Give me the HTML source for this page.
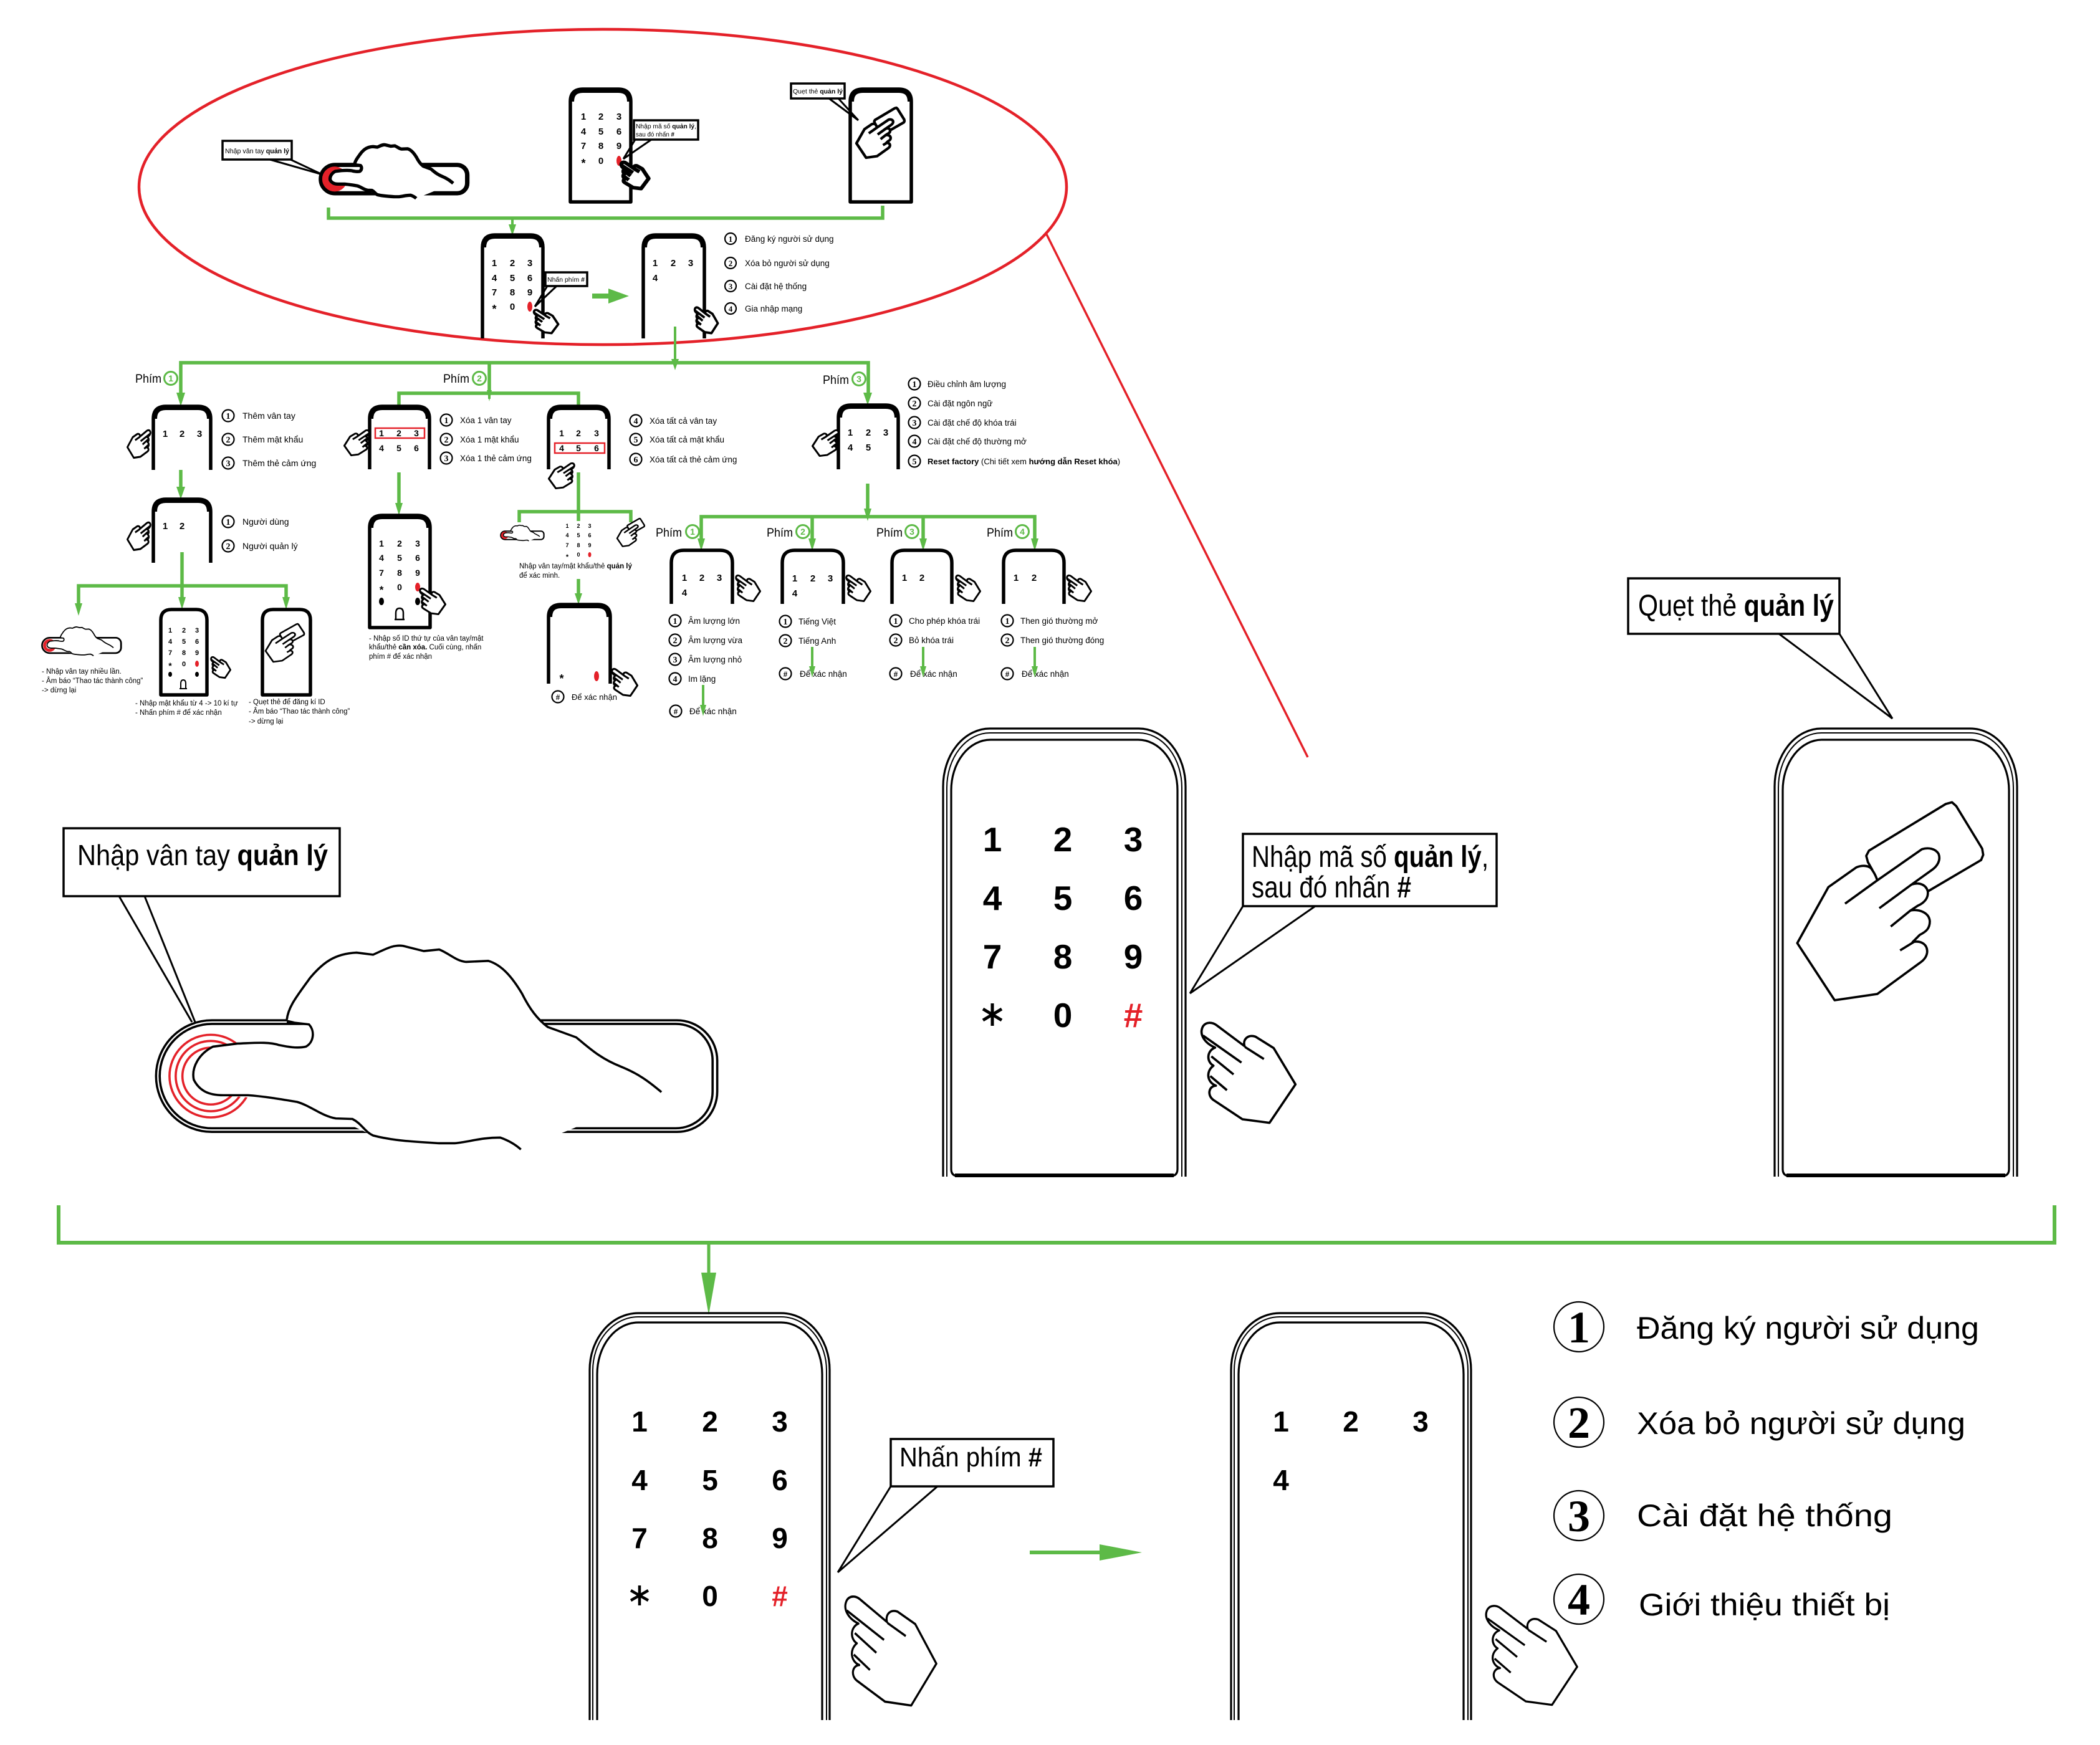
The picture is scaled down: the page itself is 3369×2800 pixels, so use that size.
<!DOCTYPE html>
<html><head><meta charset="utf-8">
<style>
html,body{margin:0;padding:0;background:#fff;}
svg{display:block;}
text{font-family:"Liberation Sans",sans-serif;}
.b{font-weight:bold;}
.g{stroke:#5dba47;fill:none;stroke-width:5.5;}
.g4{stroke:#5dba47;fill:none;stroke-width:4;}
.ga{fill:#5dba47;stroke:none;}
.d{fill:none;stroke:#000;stroke-width:5.5;stroke-linejoin:round;}
.dt{fill:none;stroke:#000;stroke-width:8;}
.bx{fill:#fff;stroke:#000;stroke-width:3.5;}
.ln{stroke:#000;stroke-width:3;fill:none;}
.cn circle{fill:#fff;stroke:#000;stroke-width:2.2;}
.cn text{font-family:"Liberation Serif",serif;font-weight:bold;text-anchor:middle;}
.gc circle{fill:#fff;stroke:#5dba47;stroke-width:3;}
.gc text{fill:#5dba47;font-weight:bold;text-anchor:middle;}
.k text{font-weight:bold;text-anchor:middle;}
.rt{fill:#e42129;}
.o1{fill:none;stroke:#000;stroke-width:3.2;}
.o2{fill:none;stroke:#000;stroke-width:2;}
</style></head><body>
<svg width="3369" height="2800" viewBox="0 0 3369 2800" xmlns="http://www.w3.org/2000/svg">
<defs>
<g id="hp">
<path fill="#fff" d="M350 236 C340 205 365 178 402 190 L490 245 L595 420 L470 605 L340 588 L200 495 C168 472 178 428 212 426 C172 412 160 360 200 330 C165 310 168 258 208 243 C160 222 128 180 150 140 C165 118 195 120 215 135 Z"/>
<path fill="none" d="M150 185 L335 315 M190 285 L297 372 M185 380 L265 448 M352 240 L443 298"/>
</g>
<g id="ch">
<path fill="#fff" d="M480 460 L460 405 L440 370 L432 340 L445 315 L815 90 L845 82 L865 100 L990 305 L995 335 L985 360 L730 510 Z"/>
<path fill="#fff" d="M250 490 L385 395 C410 385 440 385 455 400 C470 420 480 440 485 458 L700 308 C730 298 765 305 780 330 C792 360 775 390 745 410 L650 478 C690 465 720 480 728 510 C732 540 715 565 680 580 L645 603 C690 595 735 615 738 655 C738 690 720 705 690 720 L655 755 C700 745 728 770 725 805 C722 830 705 845 690 855 L485 1005 L280 1035 L100 760 Z"/>
<path fill="none" d="M330 570 L485 458 M495 592 L650 478 M550 680 L645 603 M595 795 L665 752"/>
</g>
<g id="fp">
<path fill="none" stroke="#000" d="M410 467 H1310 A78 78 0 0 1 1388 545 V605 A78 78 0 0 1 1310 683 H410 A108 108 0 0 1 410 467 Z"/>
<path fill="none" stroke="#000" d="M410 474 H1308 A71 71 0 0 1 1379 545 V605 A71 71 0 0 1 1308 676 H410 A101 101 0 0 1 410 474 Z"/>
<circle cx="408" cy="575" r="80" fill="none" stroke="#e42129"/>
<circle cx="408" cy="575" r="68" fill="none" stroke="#e42129"/>
<circle cx="408" cy="575" r="55" fill="none" stroke="#e42129"/>
<path fill="#fff" stroke="none" d="M555 466 L600 385 L690 336 L780 323 L902 354 L945 352 L1010 415 L1050 470 L1060 480 L1200 556 L1280 606 L1100 680 L1008 717 L968 694 L850 705 L722 690 L650 657 L575 625 L432 612 L375 582 L412 518 L460 512 L540 515 L592 518 L607 495 L598 475 Z"/>
<path fill="none" stroke="#000" stroke-linejoin="round" d="M555 466 C558 440 575 420 600 385 C625 355 648 338 690 336 L722 340 C745 330 760 320 780 323 L820 333 L850 330 C870 338 882 352 902 354 L945 352 C972 360 992 385 1010 415 C1025 445 1040 465 1060 480 L1115 500 C1140 520 1160 540 1200 556 C1235 570 1255 585 1280 606"/>
<path fill="none" stroke="#000" stroke-linejoin="round" d="M555 470 L598 475 C610 488 607 510 592 518 C575 522 555 518 540 515 C520 508 490 511 460 512 L412 518 C385 532 370 558 375 582 C385 602 402 612 432 612 L480 612 C510 614 545 620 575 625 C602 633 622 652 650 657 L682 658 C700 667 706 683 722 690 C760 700 800 702 850 705 L880 705 C910 702 930 694 968 694 C985 700 998 708 1008 717"/>
</g>
</defs>
<rect width="3369" height="2800" fill="#fff"/>

<!-- ===== Ellipse ===== -->
<ellipse cx="967" cy="300" rx="744" ry="253" fill="none" stroke="#e42129" stroke-width="4.5"/>
<line x1="1679" y1="376" x2="2098" y2="1215" stroke="#e42129" stroke-width="3.5"/>

<!-- small fingerprint in ellipse -->
<use href="#fp" transform="translate(448 162) scale(0.218)" stroke-width="24"/>
<rect class="bx" x="357" y="226" width="111" height="30" stroke-width="3"/>
<text x="361" y="246" font-size="11" textLength="103" lengthAdjust="spacingAndGlyphs">Nhập vân tay <tspan class="b">quản lý</tspan></text>
<path class="ln" d="M433 256 L517 280 M466 256 L517 280"/>

<!-- E1 keypad -->
<path class="d" d="M915 324 V163 Q915 143 935 143 H992 Q1012 143 1012 163 V324 Z"/>
<path class="dt" d="M917 163 Q917 145 935 145 H992 Q1010 145 1010 163"/>
<g class="k" font-size="15">
<text x="936" y="192">1</text><text x="964" y="192">2</text><text x="993" y="192">3</text>
<text x="936" y="216">4</text><text x="964" y="216">5</text><text x="993" y="216">6</text>
<text x="936" y="239">7</text><text x="964" y="239">8</text><text x="993" y="239">9</text>
<text x="936" y="268" font-size="18">*</text><text x="964" y="263">0</text>
</g>
<ellipse cx="993" cy="258" rx="4" ry="8" fill="#e42129"/>
<use href="#hp" transform="translate(983 249.5) scale(0.0968 0.0878)" stroke="#000" stroke-width="65" stroke-linejoin="round"/>
<rect class="bx" x="1017" y="193" width="103" height="31" stroke-width="3"/>
<text x="1020" y="206" font-size="10" textLength="97" lengthAdjust="spacingAndGlyphs">Nhập mã số <tspan class="b">quản lý</tspan>,</text>
<text x="1020" y="219" font-size="10" textLength="62" lengthAdjust="spacingAndGlyphs">sau đó nhấn <tspan class="b">#</tspan></text>
<path class="ln" d="M1019 224 L1000 255 M1045 224 L1000 255"/>

<!-- E2 card -->
<path class="d" d="M1364 324 V163 Q1364 143 1384 143 H1442 Q1462 143 1462 163 V324 Z"/>
<path class="dt" d="M1366 163 Q1366 145 1384 145 H1442 Q1460 145 1460 163"/>
<use href="#ch" transform="translate(1365.4 166.1) scale(0.086 0.084)" stroke="#000" stroke-width="50" stroke-linejoin="round"/>
<rect class="bx" x="1269" y="134" width="86" height="24" stroke-width="3"/>
<text x="1272" y="150" font-size="10" textLength="80" lengthAdjust="spacingAndGlyphs">Quẹt thẻ <tspan class="b">quản lý</tspan></text>
<path class="ln" d="M1330 158 L1377 193 M1345 158 L1377 193"/>

<!-- ellipse bracket -->
<path class="g" d="M527 333 V350 H1416 V330"/>
<path class="g4" d="M822 350 V362"/>
<polygon class="ga" points="816,360 828,360 822,378"/>

<!-- E3 device -->
<path class="d" d="M774 543 V397 Q774 377 794 377 H851 Q871 377 871 397 V543"/>
<path class="dt" d="M776 397 Q776 379 794 379 H851 Q869 379 869 397"/>
<g class="k" font-size="15">
<text x="793" y="427">1</text><text x="822" y="427">2</text><text x="850" y="427">3</text>
<text x="793" y="451">4</text><text x="822" y="451">5</text><text x="850" y="451">6</text>
<text x="793" y="474">7</text><text x="822" y="474">8</text><text x="850" y="474">9</text>
<text x="793" y="502" font-size="18">*</text><text x="822" y="497">0</text>
</g>
<ellipse cx="850" cy="492" rx="4" ry="8" fill="#e42129"/>
<use href="#hp" transform="translate(844.4 487.7) scale(0.086 0.0776)" stroke="#000" stroke-width="45" stroke-linejoin="round"/>
<rect class="bx" x="875" y="437" width="67" height="22" stroke-width="3"/>
<text x="878" y="452" font-size="10" textLength="60" lengthAdjust="spacingAndGlyphs">Nhấn phím <tspan class="b">#</tspan></text>
<path class="ln" d="M878 459 L858 492 M893 459 L858 492"/>
<path d="M950 475 H980" stroke="#5dba47" stroke-width="8"/>
<polygon class="ga" points="976,463 1009,475 976,487"/>

<!-- E4 device -->
<path class="d" d="M1032 543 V397 Q1032 377 1052 377 H1110 Q1130 377 1130 397 V543"/>
<path class="dt" d="M1034 397 Q1034 379 1052 379 H1110 Q1128 379 1128 397"/>
<g class="k" font-size="15">
<text x="1051" y="427">1</text><text x="1080" y="427">2</text><text x="1108" y="427">3</text>
<text x="1051" y="451">4</text>
</g>
<use href="#hp" transform="translate(1103 482.7) scale(0.0817 0.0857)" stroke="#000" stroke-width="45" stroke-linejoin="round"/>
<g class="cn">
<circle cx="1172" cy="383" r="9"/><text x="1172" y="388" font-size="13">1</text>
<circle cx="1172" cy="422" r="9"/><text x="1172" y="427" font-size="13">2</text>
<circle cx="1172" cy="459" r="9"/><text x="1172" y="464" font-size="13">3</text>
<circle cx="1172" cy="495" r="9"/><text x="1172" y="500" font-size="13">4</text>
</g>
<g font-size="13.5">
<text x="1195" y="388">Đăng ký người sử dụng</text>
<text x="1195" y="427">Xóa bỏ người sử dụng</text>
<text x="1195" y="464">Cài đặt hệ thống</text>
<text x="1195" y="500">Gia nhập mạng</text>
</g>

<!-- arrow from ellipse -->
<path class="g4" d="M1083 524 V578"/>
<polygon class="ga" points="1077,576 1089,576 1083,594"/>

<!-- ===== Phím tree ===== -->
<path class="g" d="M290 640 V582 H1393 V636"/>
<polygon class="ga" points="283,630 297,630 290,652"/>
<polygon class="ga" points="1385,630 1399,630 1392,650"/>
<path class="g" d="M785 582 V631 M640 652 V631 H928 V652"/>
<path class="g4" d="M785 631 V640"/>
<polygon class="ga" points="781,626 789,626 785,644"/>

<text x="217" y="614" font-size="19" textLength="42" lengthAdjust="spacingAndGlyphs">Phím</text>
<text x="711" y="614" font-size="19" textLength="42" lengthAdjust="spacingAndGlyphs">Phím</text>
<text x="1320" y="616" font-size="19" textLength="42" lengthAdjust="spacingAndGlyphs">Phím</text>
<g class="gc">
<circle cx="274" cy="607" r="10.5"/><text x="274" y="612" font-size="14">1</text>
<circle cx="769" cy="607" r="10.5"/><text x="769" y="612" font-size="14">2</text>
<circle cx="1378" cy="608" r="10.5"/><text x="1378" y="613" font-size="14">3</text>
</g>

<!-- Phím 1 -->
<path class="d" d="M246 754 V672 Q246 652 266 652 H318 Q338 652 338 672 V754"/>
<path class="dt" d="M248 672 Q248 654 266 654 H318 Q336 654 336 672"/>
<g class="k" font-size="15"><text x="265" y="701">1</text><text x="292" y="701">2</text><text x="320" y="701">3</text></g>
<use href="#hp" transform="translate(253 679) scale(-0.0817 0.0918)" stroke="#000" stroke-width="34" stroke-linejoin="round"/>
<g class="cn">
<circle cx="366" cy="667" r="9.5"/><text x="366" y="672" font-size="14">1</text>
<circle cx="366" cy="705" r="9.5"/><text x="366" y="710" font-size="14">2</text>
<circle cx="366" cy="743" r="9.5"/><text x="366" y="748" font-size="14">3</text>
<circle cx="366" cy="837" r="9.5"/><text x="366" y="842" font-size="14">1</text>
<circle cx="366" cy="876" r="9.5"/><text x="366" y="881" font-size="14">2</text>
</g>
<g font-size="14">
<text x="389" y="672">Thêm vân tay</text>
<text x="389" y="710">Thêm mật khẩu</text>
<text x="389" y="748">Thêm thẻ cảm ứng</text>
<text x="389" y="842">Người dùng</text>
<text x="389" y="881">Người quản lý</text>
</g>
<path class="g" d="M290 754 V784"/>
<polygon class="ga" points="283,781 297,781 290,801"/>
<path class="d" d="M246 903 V821 Q246 801 266 801 H318 Q338 801 338 821 V903"/>
<path class="dt" d="M248 821 Q248 803 266 803 H318 Q336 803 336 821"/>
<g class="k" font-size="15"><text x="265" y="849">1</text><text x="292" y="849">2</text></g>
<use href="#hp" transform="translate(253 827) scale(-0.0817 0.0918)" stroke="#000" stroke-width="34" stroke-linejoin="round"/>
<path class="g" d="M292 886 V940 M126 970 V940 H459 V962 M292 940 V962"/>
<polygon class="ga" points="120,968 132,968 126,988"/>
<polygon class="ga" points="286,958 298,958 292,978"/>
<polygon class="ga" points="453,958 465,958 459,978"/>

<use href="#fp" transform="translate(31.5 968) scale(0.1176)" stroke-width="15"/>
<g font-size="11.5">
<text x="67" y="1081">- Nhập vân tay nhiều lần.</text>
<text x="67" y="1096">- Âm báo “Thao tác thành công”</text>
<text x="67" y="1111">-&gt; dừng lại</text>
<text x="217" y="1132">- Nhập mật khẩu từ 4 -&gt; 10 kí tự</text>
<text x="217" y="1147">- Nhấn phím # để xác nhận</text>
<text x="399" y="1130">- Quẹt thẻ để đăng kí ID</text>
<text x="399" y="1145">- Âm báo “Thao tác thành công”</text>
<text x="399" y="1161">-&gt; dừng lại</text>
</g>
<path class="d" d="M258 1115 V995 Q258 978 275 978 H315 Q332 978 332 995 V1115 Z"/>
<g class="k" font-size="11">
<text x="273" y="1015">1</text><text x="295" y="1015">2</text><text x="316" y="1015">3</text>
<text x="273" y="1033">4</text><text x="295" y="1033">5</text><text x="316" y="1033">6</text>
<text x="273" y="1051">7</text><text x="295" y="1051">8</text><text x="316" y="1051">9</text>
<text x="273" y="1073" font-size="14">*</text><text x="295" y="1069">0</text>
</g>
<ellipse cx="316" cy="1065" rx="3" ry="5" fill="#e42129"/>
<ellipse cx="273" cy="1082" rx="3" ry="4"/><ellipse cx="316" cy="1082" rx="3" ry="4"/>
<path d="M290 1105 V1097 Q290 1091 294 1091 Q298 1091 298 1097 V1105 Z M288 1105 H300" stroke="#000" stroke-width="2" fill="none"/>
<use href="#hp" transform="translate(328.7 1045.7) scale(0.0688 0.0694)" stroke="#000" stroke-width="40" stroke-linejoin="round"/>
<path class="d" d="M421 1115 V995 Q421 978 438 978 H481 Q498 978 498 995 V1115 Z"/>
<use href="#ch" transform="translate(419.1 995.8) scale(0.0693 0.064)" stroke="#000" stroke-width="40" stroke-linejoin="round"/>

<!-- Phím 2 -->
<path class="d" d="M593 753 V672 Q593 652 613 652 H669 Q689 652 689 672 V753"/>
<path class="dt" d="M595 672 Q595 654 613 654 H669 Q687 654 687 672"/>
<rect x="602" y="687" width="79" height="16" fill="none" stroke="#e42129" stroke-width="2.5"/>
<g class="k" font-size="14">
<text x="612" y="700">1</text><text x="640" y="700">2</text><text x="668" y="700">3</text>
<text x="612" y="724">4</text><text x="640" y="724">5</text><text x="668" y="724">6</text>
</g>
<use href="#hp" transform="translate(604.9 680) scale(-0.0882 0.0837)" stroke="#000" stroke-width="34" stroke-linejoin="round"/>
<g class="cn">
<circle cx="716" cy="674" r="9.5"/><text x="716" y="679" font-size="14">1</text>
<circle cx="716" cy="705" r="9.5"/><text x="716" y="710" font-size="14">2</text>
<circle cx="716" cy="735" r="9.5"/><text x="716" y="740" font-size="14">3</text>
<circle cx="1020" cy="675" r="9.5"/><text x="1020" y="680" font-size="14">4</text>
<circle cx="1020" cy="705" r="9.5"/><text x="1020" y="710" font-size="14">5</text>
<circle cx="1020" cy="737" r="9.5"/><text x="1020" y="742" font-size="14">6</text>
</g>
<g font-size="13.5">
<text x="738" y="679">Xóa 1 vân tay</text>
<text x="738" y="710">Xóa 1 mật khẩu</text>
<text x="738" y="740">Xóa 1 thẻ cảm ứng</text>
<text x="1042" y="680">Xóa tất cả vân tay</text>
<text x="1042" y="710">Xóa tất cả mật khẩu</text>
<text x="1042" y="742">Xóa tất cả thẻ cảm ứng</text>
</g>
<path class="d" d="M880 753 V672 Q880 652 900 652 H957 Q977 652 977 672 V753"/>
<path class="dt" d="M882 672 Q882 654 900 654 H957 Q975 654 975 672"/>
<rect x="890" y="711" width="80" height="16" fill="none" stroke="#e42129" stroke-width="2.5"/>
<g class="k" font-size="14">
<text x="901" y="700">1</text><text x="928" y="700">2</text><text x="957" y="700">3</text>
<text x="901" y="724">4</text><text x="928" y="724">5</text><text x="957" y="724">6</text>
</g>
<use href="#hp" transform="translate(934.2 733) scale(-0.0903 0.0837)" stroke="#000" stroke-width="34" stroke-linejoin="round"/>

<path class="g" d="M640 758 V810"/>
<polygon class="ga" points="634,807 646,807 640,827"/>
<path class="d" d="M593 1007 V847 Q593 827 613 827 H670 Q690 827 690 847 V1007 Z"/>
<path class="dt" d="M595 847 Q595 829 613 829 H670 Q688 829 688 847"/>
<g class="k" font-size="14">
<text x="612" y="877">1</text><text x="641" y="877">2</text><text x="670" y="877">3</text>
<text x="612" y="900">4</text><text x="641" y="900">5</text><text x="670" y="900">6</text>
<text x="612" y="924">7</text><text x="641" y="924">8</text><text x="670" y="924">9</text>
<text x="612" y="952" font-size="17">*</text><text x="641" y="947">0</text>
</g>
<ellipse cx="670" cy="942" rx="4" ry="7" fill="#e42129"/>
<ellipse cx="612" cy="965" rx="4" ry="6"/><ellipse cx="670" cy="965" rx="4" ry="6"/>
<path d="M635 994 V984 Q635 976 641 976 Q647 976 647 984 V994 Z M633 994 H649" stroke="#000" stroke-width="2.5" fill="none"/>
<use href="#hp" transform="translate(660.8 933.7) scale(0.0903 0.0857)" stroke="#000" stroke-width="34" stroke-linejoin="round"/>
<g font-size="11.5">
<text x="592" y="1028">- Nhập số ID thứ tự của vân tay/mật</text>
<text x="592" y="1042">khẩu/thẻ <tspan class="b">cần xóa.</tspan> Cuối cùng, nhấn</text>
<text x="592" y="1057">phím # để xác nhận</text>
</g>

<path class="g" d="M928 758 V821 M833 838 V821 H1012 V838 M928 821 V836"/>
<use href="#fp" transform="translate(783.6 822) scale(0.0643)" stroke-width="24"/>
<g class="k" font-size="9">
<text x="910" y="847">1</text><text x="928" y="847">2</text><text x="946" y="847">3</text>
<text x="910" y="862">4</text><text x="928" y="862">5</text><text x="946" y="862">6</text>
<text x="910" y="878">7</text><text x="928" y="878">8</text><text x="946" y="878">9</text>
<text x="910" y="897" font-size="11">*</text><text x="928" y="893">0</text>
</g>
<ellipse cx="946" cy="890" rx="2.5" ry="4" fill="#e42129"/>
<use href="#ch" transform="translate(985.1 828.1) scale(0.049 0.047)" stroke="#000" stroke-width="50" stroke-linejoin="round"/>
<g font-size="11.5">
<text x="833" y="912">Nhập vân tay/mật khẩu/thẻ <tspan class="b">quản lý</tspan></text>
<text x="833" y="927">để xác minh.</text>
</g>
<path class="g" d="M928 929 V955"/>
<polygon class="ga" points="922,952 934,952 928,970"/>
<path class="d" d="M880 1097 V990 Q880 970 900 970 H959 Q979 970 979 990 V1097"/>
<path class="dt" d="M882 990 Q882 972 900 972 H959 Q977 972 977 990"/>
<text x="901" y="1095" font-size="18" class="b" text-anchor="middle">*</text>
<ellipse cx="957" cy="1085" rx="4" ry="8" fill="#e42129"/>
<use href="#hp" transform="translate(968.8 1062.2) scale(0.0903 0.0898)" stroke="#000" stroke-width="34" stroke-linejoin="round"/>
<g class="cn"><circle cx="895" cy="1118" r="9.5"/><text x="895" y="1123" font-size="13">#</text></g>
<text x="917" y="1123" font-size="13">Để xác nhận</text>

<!-- Phím 3 -->
<path class="d" d="M1345 753 V670 Q1345 650 1365 650 H1421 Q1441 650 1441 670 V753"/>
<path class="dt" d="M1347 670 Q1347 652 1365 652 H1421 Q1439 652 1439 670"/>
<g class="k" font-size="15">
<text x="1364" y="699">1</text><text x="1393" y="699">2</text><text x="1421" y="699">3</text>
<text x="1364" y="723">4</text><text x="1393" y="723">5</text>
</g>
<use href="#hp" transform="translate(1358.5 679.7) scale(-0.0925 0.0857)" stroke="#000" stroke-width="34" stroke-linejoin="round"/>
<g class="cn">
<circle cx="1467" cy="616" r="9.5"/><text x="1467" y="621" font-size="14">1</text>
<circle cx="1467" cy="647" r="9.5"/><text x="1467" y="652" font-size="14">2</text>
<circle cx="1467" cy="678" r="9.5"/><text x="1467" y="683" font-size="14">3</text>
<circle cx="1467" cy="708" r="9.5"/><text x="1467" y="713" font-size="14">4</text>
<circle cx="1467" cy="740" r="9.5"/><text x="1467" y="745" font-size="14">5</text>
</g>
<g font-size="13.5">
<text x="1488" y="621">Điều chỉnh âm lượng</text>
<text x="1488" y="652">Cài đặt ngôn ngữ</text>
<text x="1488" y="683">Cài đặt chế độ khóa trái</text>
<text x="1488" y="713">Cài đặt chế độ thường mở</text>
<text x="1488" y="745" font-size="13"><tspan class="b">Reset factory</tspan> (Chi tiết xem <tspan class="b">hướng dẫn Reset khóa</tspan>)</text>
</g>
<path class="g" d="M1392 776 V820"/>
<polygon class="ga" points="1386,816 1398,816 1392,836"/>
<path class="g" d="M1125 866 V829 H1660 V866 M1303 829 V866 M1481 829 V866"/>
<polygon class="ga" points="1119,864 1131,864 1125,884"/>
<polygon class="ga" points="1297,864 1309,864 1303,884"/>
<polygon class="ga" points="1475,864 1487,864 1481,884"/>
<polygon class="ga" points="1654,864 1666,864 1660,884"/>
<g font-size="19">
<text x="1052" y="861" textLength="42" lengthAdjust="spacingAndGlyphs">Phím</text>
<text x="1230" y="861" textLength="42" lengthAdjust="spacingAndGlyphs">Phím</text>
<text x="1406" y="861" textLength="42" lengthAdjust="spacingAndGlyphs">Phím</text>
<text x="1583" y="861" textLength="42" lengthAdjust="spacingAndGlyphs">Phím</text>
</g>
<g class="gc">
<circle cx="1111" cy="853" r="10.5"/><text x="1111" y="858" font-size="14">1</text>
<circle cx="1288" cy="853" r="10.5"/><text x="1288" y="858" font-size="14">2</text>
<circle cx="1463" cy="853" r="10.5"/><text x="1463" y="858" font-size="14">3</text>
<circle cx="1640" cy="853" r="10.5"/><text x="1640" y="858" font-size="14">4</text>
</g>
<path class="d" d="M1077 969 V903 Q1077 883 1097 883 H1155 Q1175 883 1175 903 V969"/>
<path class="d" d="M1255 969 V903 Q1255 883 1275 883 H1333 Q1353 883 1353 903 V969"/>
<path class="d" d="M1431 969 V903 Q1431 883 1451 883 H1507 Q1527 883 1527 903 V969"/>
<path class="d" d="M1610 969 V903 Q1610 883 1630 883 H1687 Q1707 883 1707 903 V969"/>
<g class="k" font-size="15">
<text x="1098" y="932">1</text><text x="1126" y="932">2</text><text x="1154" y="932">3</text><text x="1098" y="956">4</text>
<text x="1275" y="933">1</text><text x="1304" y="933">2</text><text x="1332" y="933">3</text><text x="1275" y="957">4</text>
<text x="1451" y="932">1</text><text x="1479" y="932">2</text>
<text x="1630" y="932">1</text><text x="1659" y="932">2</text>
</g>
<use href="#hp" transform="translate(1168.4 912.7) scale(0.086 0.0857)" stroke="#000" stroke-width="34" stroke-linejoin="round"/>
<use href="#hp" transform="translate(1345.4 912.7) scale(0.086 0.0857)" stroke="#000" stroke-width="34" stroke-linejoin="round"/>
<use href="#hp" transform="translate(1521.4 912.7) scale(0.086 0.0857)" stroke="#000" stroke-width="34" stroke-linejoin="round"/>
<use href="#hp" transform="translate(1699.4 912.7) scale(0.086 0.0857)" stroke="#000" stroke-width="34" stroke-linejoin="round"/>
<g class="cn">
<circle cx="1083" cy="996" r="9.5"/><text x="1083" y="1001" font-size="14">1</text>
<circle cx="1083" cy="1027" r="9.5"/><text x="1083" y="1032" font-size="14">2</text>
<circle cx="1083" cy="1058" r="9.5"/><text x="1083" y="1063" font-size="14">3</text>
<circle cx="1083" cy="1089" r="9.5"/><text x="1083" y="1094" font-size="14">4</text>
<circle cx="1084" cy="1141" r="9.5"/><text x="1084" y="1146" font-size="13">#</text>
<circle cx="1260" cy="997" r="9.5"/><text x="1260" y="1002" font-size="14">1</text>
<circle cx="1260" cy="1028" r="9.5"/><text x="1260" y="1033" font-size="14">2</text>
<circle cx="1260" cy="1081" r="9.5"/><text x="1260" y="1086" font-size="13">#</text>
<circle cx="1437" cy="996" r="9.5"/><text x="1437" y="1001" font-size="14">1</text>
<circle cx="1437" cy="1027" r="9.5"/><text x="1437" y="1032" font-size="14">2</text>
<circle cx="1437" cy="1081" r="9.5"/><text x="1437" y="1086" font-size="13">#</text>
<circle cx="1616" cy="996" r="9.5"/><text x="1616" y="1001" font-size="14">1</text>
<circle cx="1616" cy="1027" r="9.5"/><text x="1616" y="1032" font-size="14">2</text>
<circle cx="1616" cy="1081" r="9.5"/><text x="1616" y="1086" font-size="13">#</text>
</g>
<g font-size="13.5">
<text x="1104" y="1001">Âm lượng lớn</text>
<text x="1104" y="1032">Âm lượng vừa</text>
<text x="1104" y="1063">Âm lượng nhỏ</text>
<text x="1104" y="1094">Im lặng</text>
<text x="1106" y="1146">Để xác nhận</text>
<text x="1281" y="1002">Tiếng Việt</text>
<text x="1281" y="1033">Tiếng Anh</text>
<text x="1283" y="1086">Để xác nhận</text>
<text x="1458" y="1001">Cho phép khóa trái</text>
<text x="1458" y="1032">Bỏ khóa trái</text>
<text x="1460" y="1086">Để xác nhận</text>
<text x="1637" y="1001">Then gió thường mở</text>
<text x="1637" y="1032">Then gió thường đóng</text>
<text x="1639" y="1086">Để xác nhận</text>
</g>
<path class="g4" d="M1128 1099 V1133 M1303 1038 V1071 M1481 1038 V1071 M1660 1038 V1071"/>
<polygon class="ga" points="1123,1131 1133,1131 1128,1149"/>
<polygon class="ga" points="1298,1069 1308,1069 1303,1087"/>
<polygon class="ga" points="1476,1069 1486,1069 1481,1087"/>
<polygon class="ga" points="1655,1069 1665,1069 1660,1087"/>

<!-- ===== Big: fingerprint ===== -->
<use href="#fp" transform="translate(0 1250) scale(0.829)" stroke-width="4.3"/>
<rect class="bx" x="102" y="1329" width="443" height="109"/>
<path class="ln" d="M191 1438 L308 1640 M232 1438 L313 1640"/>
<text x="124" y="1388" font-size="46" textLength="402" lengthAdjust="spacingAndGlyphs">Nhập vân tay <tspan class="b">quản lý</tspan></text>

<!-- Big keypad -->
<path class="o1" d="M1513 1888 V1262 A75 93 0 0 1 1588 1169 H1827 A75 93 0 0 1 1902 1262 V1888"/>
<path class="o2" d="M1519 1888 V1264 A69 88 0 0 1 1588 1176 H1827 A69 88 0 0 1 1896 1264 V1888"/>
<path class="o1" d="M1526 1876 V1268 A63 81 0 0 1 1589 1187 H1826 A63 81 0 0 1 1889 1268 V1876 Q1889 1887 1878 1887 H1537 Q1526 1887 1526 1876 Z"/>
<path d="M1532 1886 H1883" stroke="#000" stroke-width="6"/>
<g class="k" font-size="55">
<text x="1592" y="1366">1</text><text x="1705" y="1366">2</text><text x="1818" y="1366">3</text>
<text x="1592" y="1460">4</text><text x="1705" y="1460">5</text><text x="1818" y="1460">6</text>
<text x="1592" y="1554">7</text><text x="1705" y="1554">8</text><text x="1818" y="1554">9</text>
<text x="1705" y="1648">0</text><text x="1818" y="1648" class="rt">#</text>
</g>
<path d="M1592 1610 V1646 M1577 1619 L1607 1637 M1577 1637 L1607 1619" stroke="#000" stroke-width="5"/>
<rect class="bx" x="1994" y="1338" width="407" height="116"/>
<path class="ln" d="M1994 1454 L1909 1594 M2110 1454 L1909 1594"/>
<text x="2008" y="1391" font-size="48" textLength="380" lengthAdjust="spacingAndGlyphs">Nhập mã số <tspan class="b">quản lý</tspan>,</text>
<text x="2008" y="1440" font-size="48" textLength="256" lengthAdjust="spacingAndGlyphs">sau đó nhấn <tspan class="b">#</tspan></text>
<use href="#hp" transform="translate(1880 1600) scale(0.3333)" stroke="#000" stroke-width="11" stroke-linejoin="round"/>

<!-- Big card device -->
<path class="o1" d="M2847 1888 V1262 A75 93 0 0 1 2922 1169 H3161 A75 93 0 0 1 3236 1262 V1888"/>
<path class="o2" d="M2853 1888 V1264 A69 88 0 0 1 2922 1176 H3161 A69 88 0 0 1 3230 1264 V1888"/>
<path class="o1" d="M2860 1876 V1268 A63 81 0 0 1 2923 1187 H3160 A63 81 0 0 1 3223 1268 V1876 Q3223 1887 3212 1887 H2871 Q2860 1887 2860 1876 Z"/>
<path d="M2866 1886 H3217" stroke="#000" stroke-width="6"/>
<use href="#ch" transform="translate(2850 1260) scale(0.3333)" stroke="#000" stroke-width="11" stroke-linejoin="round"/>
<rect class="bx" x="2612" y="928" width="339" height="89"/>
<path class="ln" d="M2854 1017 L3036 1153 M2951 1017 L3036 1153"/>
<text x="2628" y="988" font-size="48" textLength="314" lengthAdjust="spacingAndGlyphs">Quẹt thẻ <tspan class="b">quản lý</tspan></text>

<!-- Bottom bracket -->
<path d="M94 1934 V1994 H3296 V1934" stroke="#5dba47" stroke-width="6" fill="none"/>
<path d="M1137 1994 V2046" stroke="#5dba47" stroke-width="5"/>
<polygon class="ga" points="1125,2042 1149,2042 1137,2110"/>

<!-- Bottom-left device -->
<path class="o1" d="M946 2760 V2198 A78 91 0 0 1 1024 2107 H1253 A78 91 0 0 1 1331 2198 V2760"/>
<path class="o2" d="M951 2760 V2200 A73 86 0 0 1 1024 2113 H1253 A73 86 0 0 1 1326 2200 V2760"/>
<path class="o1" d="M958 2760 V2205 A66 83 0 0 1 1024 2122 H1253 A66 83 0 0 1 1319 2205 V2760"/>
<g class="k" font-size="46">
<text x="1026" y="2297">1</text><text x="1139" y="2297">2</text><text x="1251" y="2297">3</text>
<text x="1026" y="2391">4</text><text x="1139" y="2391">5</text><text x="1251" y="2391">6</text>
<text x="1026" y="2484">7</text><text x="1139" y="2484">8</text><text x="1251" y="2484">9</text>
<text x="1139" y="2577">0</text><text x="1251" y="2577" class="rt">#</text>
</g>
<path d="M1026 2544 V2576 M1012 2552 L1040 2568 M1012 2568 L1040 2552" stroke="#000" stroke-width="4.5"/>
<rect class="bx" x="1429" y="2309" width="261" height="76"/>
<path class="ln" d="M1429 2385 L1344 2523 M1504 2385 L1344 2523"/>
<text x="1443" y="2353" font-size="44" textLength="229" lengthAdjust="spacingAndGlyphs">Nhấn phím <tspan class="b">#</tspan></text>
<use href="#hp" transform="translate(1310 2517) scale(0.323 0.363)" stroke="#000" stroke-width="10" stroke-linejoin="round"/>
<path d="M1652 2491 H1770" stroke="#5dba47" stroke-width="6"/>
<polygon class="ga" points="1764,2478 1832,2491 1764,2504"/>

<!-- Bottom-right device -->
<path class="o1" d="M1975 2760 V2198 A78 91 0 0 1 2053 2107 H2282 A78 91 0 0 1 2360 2198 V2760"/>
<path class="o2" d="M1980 2760 V2200 A73 86 0 0 1 2053 2113 H2282 A73 86 0 0 1 2355 2200 V2760"/>
<path class="o1" d="M1987 2760 V2205 A66 83 0 0 1 2053 2122 H2282 A66 83 0 0 1 2348 2205 V2760"/>
<g class="k" font-size="46">
<text x="2055" y="2297">1</text><text x="2167" y="2297">2</text><text x="2279" y="2297">3</text>
<text x="2055" y="2391">4</text>
</g>
<use href="#hp" transform="translate(2338 2536) scale(0.323 0.33)" stroke="#000" stroke-width="10" stroke-linejoin="round"/>

<!-- Big list -->
<g class="cn">
<circle cx="2533" cy="2129" r="40" stroke-width="2.5"/><text x="2533" y="2154" font-size="72">1</text>
<circle cx="2533" cy="2282" r="40" stroke-width="2.5"/><text x="2533" y="2307" font-size="72">2</text>
<circle cx="2533" cy="2432" r="40" stroke-width="2.5"/><text x="2533" y="2457" font-size="72">3</text>
<circle cx="2533" cy="2566" r="40" stroke-width="2.5"/><text x="2533" y="2591" font-size="72">4</text>
</g>
<g font-size="50">
<text x="2626" y="2148" textLength="549" lengthAdjust="spacingAndGlyphs">Đăng ký người sử dụng</text>
<text x="2626" y="2301" textLength="527" lengthAdjust="spacingAndGlyphs">Xóa bỏ người sử dụng</text>
<text x="2626" y="2449" textLength="410" lengthAdjust="spacingAndGlyphs">Cài đặt hệ thống</text>
<text x="2629" y="2592" textLength="403" lengthAdjust="spacingAndGlyphs">Giới thiệu thiết bị</text>
</g>
</svg>
</body></html>
